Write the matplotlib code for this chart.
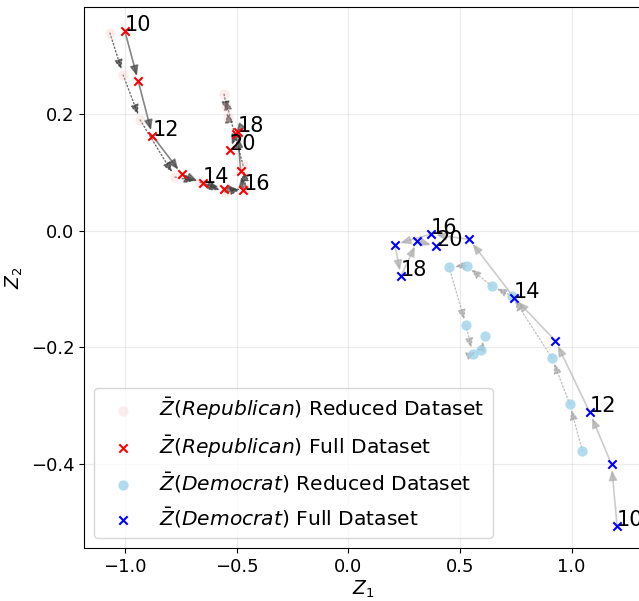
import matplotlib
matplotlib.use("Agg")
import matplotlib.pyplot as plt

years = [10, 11, 12, 13, 14, 15, 16, 17, 18, 19, 20]

rep_full_x = [-1.000, -0.940, -0.877, -0.746, -0.652, -0.556, -0.470, -0.482, -0.495, -0.503, -0.530]
rep_full_y = [0.342, 0.256, 0.163, 0.097, 0.081, 0.072, 0.070, 0.102, 0.170, 0.166, 0.138]

rep_red_x = [-1.067, -1.008, -0.932, -0.776, -0.664, -0.552, -0.458, -0.471, -0.556, -0.538, -0.547]
rep_red_y = [0.339, 0.267, 0.190, 0.092, 0.083, 0.066, 0.073, 0.112, 0.234, 0.195, 0.212]

dem_full_x = [1.204, 1.179, 1.082, 0.928, 0.743, 0.542, 0.369, 0.209, 0.236, 0.310, 0.395]
dem_full_y = [-0.507, -0.401, -0.312, -0.189, -0.115, -0.015, -0.006, -0.024, -0.078, -0.018, -0.027]

dem_red_x = [1.049, 0.992, 0.913, 0.733, 0.642, 0.530, 0.451, 0.527, 0.557, 0.596, 0.613]
dem_red_y = [-0.378, -0.298, -0.219, -0.112, -0.095, -0.060, -0.062, -0.162, -0.211, -0.204, -0.180]

label_years = [10, 12, 14, 16, 18, 20]

fig = plt.figure(figsize=(6.39, 6.01), dpi=100)
ax = fig.add_axes([0.1319, 0.0877, 0.874, 0.900])


def draw_arrows(xs, ys, color, ls, alpha, lw):
    for i in range(len(xs) - 1):
        ax.annotate("", xy=(xs[i + 1], ys[i + 1]), xytext=(xs[i], ys[i]),
                    arrowprops=dict(arrowstyle="-|>,head_length=0.6,head_width=0.25",
                                    color=color, alpha=alpha, lw=lw, ls=ls,
                                    shrinkA=0, shrinkB=4),
                    zorder=1)


draw_arrows(rep_red_x, rep_red_y, "#333333", ":", 0.7, 1.0)
draw_arrows(rep_full_x, rep_full_y, "#444444", "-", 0.65, 1.2)
draw_arrows(dem_red_x, dem_red_y, "#999999", ":", 0.6, 1.0)
draw_arrows(dem_full_x, dem_full_y, "#aaaaaa", "-", 0.6, 1.2)

ax.scatter(rep_red_x, rep_red_y, s=55, color="#f7c6c6", alpha=0.3, linewidths=0,
           label=r"$\bar{Z}(Republican)$ Reduced Dataset", zorder=2)
ax.scatter(rep_full_x, rep_full_y, s=36, marker="x", color="red",
           label=r"$\bar{Z}(Republican)$ Full Dataset", zorder=3)
ax.scatter(dem_red_x, dem_red_y, s=55, color="#9fd3ea", alpha=0.8, linewidths=0,
           label=r"$\bar{Z}(Democrat)$ Reduced Dataset", zorder=2)
ax.scatter(dem_full_x, dem_full_y, s=36, marker="x", color="blue",
           label=r"$\bar{Z}(Democrat)$ Full Dataset", zorder=3)

for yr, x, y in zip(years, rep_full_x, rep_full_y):
    if yr in label_years:
        ax.text(x, y, str(yr), fontsize=15, zorder=4)
for yr, x, y in zip(years, dem_full_x, dem_full_y):
    if yr in label_years:
        ax.text(x, y, str(yr), fontsize=15, zorder=4)

ax.set_xlim(-1.182, 1.319)
ax.set_ylim(-0.545, 0.383)
ax.set_xticks([-1.0, -0.5, 0.0, 0.5, 1.0])
ax.set_yticks([-0.4, -0.2, 0.0, 0.2])
ax.tick_params(labelsize=13)
ax.grid(True, alpha=0.25)
ax.set_xlabel(r"$Z_1$", fontsize=13.5, labelpad=2)
ax.set_ylabel(r"$Z_2$", fontsize=13.5)
ax.legend(loc="lower left", fontsize=14.6, labelspacing=0.55)

fig.savefig("out.png", dpi=100)
